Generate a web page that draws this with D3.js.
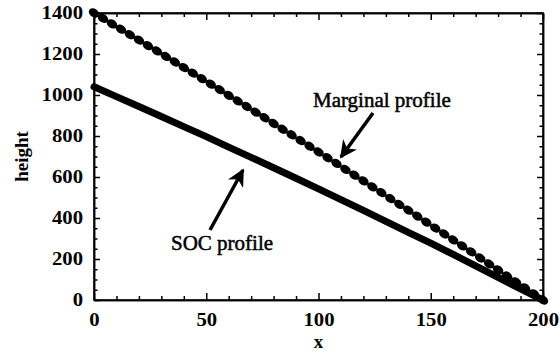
<!DOCTYPE html>
<html>
<head>
<meta charset="utf-8">
<script src="https://cdn.jsdelivr.net/npm/d3@7"></script>
<style>
  body { margin: 0; background: #fff; }
  svg { display: block; }
  .axis text { font-family: "Liberation Serif", "Times New Roman", serif; font-size: 18px; font-weight: bold; fill: #000; }
  .axis path, .axis line { stroke: #000; stroke-width: 1.5; }
  .label { font-family: "Liberation Serif", "Times New Roman", serif; fill: #000; }
</style>
</head>
<body>
<div id="chart"></div>
<script>
// marginal profile, sampled every 4 units of x
const marginalX = [0, 4, 8, 12, 16, 20, 24, 28, 32, 36, 40, 44, 48, 52, 56, 60, 64, 68, 72, 76,
  80, 84, 88, 92, 96, 100, 104, 108, 112, 116, 120, 124, 128, 132, 136, 140, 144, 148, 152, 156,
  160, 164, 168, 172, 176, 180, 184, 188, 192, 196, 200];
const marginalH = [1400, 1374, 1347, 1321, 1294, 1268, 1241, 1215, 1188, 1161, 1134, 1107, 1080, 1053, 1026, 998, 971, 944, 916, 889,
  861, 833, 806, 778, 750, 722, 694, 666, 637, 609, 581, 552, 524, 495, 466, 438, 409, 380, 351, 322,
  293, 264, 235, 205, 176, 147, 117, 88, 59, 30, 0];

// SOC profile
const socX = [0, 10, 20, 30, 40, 50, 60, 70, 80, 90, 100, 110, 120, 130, 140, 150, 160, 170, 180, 190, 200];
const socH = [1040, 992, 944, 895, 846, 797, 746, 696, 645, 594, 542, 490, 437, 384, 330, 277, 222, 167, 110, 54, 0];

const xTicks = [0, 50, 100, 150, 200];
const yTicks = [0, 200, 400, 600, 800, 1000, 1200, 1400];

const width = 560, height = 351;
const margin = { top: 13, right: 17, bottom: 51, left: 94 };
const w = width - margin.left - margin.right;
const h = height - margin.top - margin.bottom;

const svg = d3.select("#chart").append("svg")
  .attr("width", width)
  .attr("height", height);

const g = svg.append("g")
  .attr("transform", `translate(${margin.left},${margin.top})`);

const x = d3.scaleLinear().domain([0, 200]).range([0, w]);
const y = d3.scaleLinear().domain([0, 1400]).range([h, 0]);

const xMinor = d3.range(0, 201, 10).filter(v => v % 50 !== 0);
const yMinor = d3.range(0, 1401, 50).filter(v => v % 200 !== 0);

// frame
g.append("rect")
  .attr("width", w).attr("height", h)
  .attr("fill", "none").attr("stroke", "#000").attr("stroke-width", 1.5);

// major ticks, inward, all four sides
g.append("g").attr("class", "axis")
  .attr("transform", `translate(0,${h})`)
  .call(d3.axisBottom(x).tickValues(xTicks).tickSize(-7).tickSizeOuter(0).tickPadding(13).tickFormat(d3.format("d")));
g.append("g").attr("class", "axis")
  .call(d3.axisLeft(y).tickValues(yTicks).tickSize(-6).tickSizeOuter(0).tickPadding(11).tickFormat(d3.format("d")));
g.append("g").attr("class", "axis")
  .call(d3.axisTop(x).tickValues(xTicks).tickSize(-7).tickSizeOuter(0).tickFormat(""));
g.append("g").attr("class", "axis")
  .attr("transform", `translate(${w},0)`)
  .call(d3.axisRight(y).tickValues(yTicks).tickSize(-6).tickSizeOuter(0).tickFormat(""));

// the printed digits are a bit wider than Liberation's
g.selectAll(".axis .tick text").each(function () {
  const len = this.getComputedTextLength();
  if (len > 0) d3.select(this).attr("textLength", len * 1.15).attr("lengthAdjust", "spacingAndGlyphs");
});

// minor ticks
g.append("g").attr("class", "axis")
  .attr("transform", `translate(0,${h})`)
  .call(d3.axisBottom(x).tickValues(xMinor).tickSize(-4).tickSizeOuter(0).tickFormat(""));
g.append("g").attr("class", "axis")
  .call(d3.axisTop(x).tickValues(xMinor).tickSize(-4).tickSizeOuter(0).tickFormat(""));
g.append("g").attr("class", "axis")
  .call(d3.axisLeft(y).tickValues(yMinor).tickSize(-3.5).tickSizeOuter(0).tickFormat(""));
g.append("g").attr("class", "axis")
  .attr("transform", `translate(${w},0)`)
  .call(d3.axisRight(y).tickValues(yMinor).tickSize(-3.5).tickSizeOuter(0).tickFormat(""));

// SOC profile: heavy solid line
const socLine = d3.line().x((d, i) => x(socX[i])).y(d => y(d));
g.append("path")
  .datum(socH)
  .attr("d", socLine)
  .attr("fill", "none")
  .attr("stroke", "#000")
  .attr("stroke-width", 7)
  .attr("stroke-linejoin", "round")
  .attr("stroke-linecap", "round");

// marginal profile: elongated dots along the line
const angle = Math.atan2(y(0) - y(1400), x(200) - x(0)) * 180 / Math.PI;
g.append("g")
  .selectAll("ellipse")
  .data(marginalH)
  .enter()
  .append("ellipse")
  .attr("transform", (d, i) => `translate(${x(marginalX[i])},${y(d)}) rotate(${angle})`)
  .attr("rx", 5.6)
  .attr("ry", 4.2)
  .attr("fill", "#000");

// axis titles
svg.append("text").attr("class", "label")
  .attr("x", margin.left + w / 2).attr("y", 348)
  .attr("text-anchor", "middle")
  .style("font-size", "19px").style("font-weight", "bold")
  .text("x");
svg.append("text").attr("class", "label")
  .attr("transform", `translate(28,${margin.top + h / 2}) rotate(-90)`)
  .attr("text-anchor", "middle")
  .style("font-size", "19px").style("font-weight", "bold")
  .text("height");

// annotations with arrows
svg.append("defs").append("marker")
  .attr("id", "head")
  .attr("viewBox", "0 0 10 10")
  .attr("refX", 9).attr("refY", 5)
  .attr("markerWidth", 5).attr("markerHeight", 5)
  .attr("orient", "auto")
  .append("path").attr("d", "M0,0 L10,5 L0,10 L3,5 Z").attr("fill", "#000");

function annotate(label, tx, ty, x1, y1, x2, y2) {
  svg.append("text").attr("class", "label")
    .attr("x", tx).attr("y", ty)
    .style("font-size", "21px")
    .attr("stroke", "#000").attr("stroke-width", 0.5)
    .text(label);
  svg.append("line")
    .attr("x1", x1).attr("y1", y1).attr("x2", x2).attr("y2", y2)
    .attr("stroke", "#000").attr("stroke-width", 3.5)
    .attr("marker-end", "url(#head)");
}
annotate("Marginal profile", 313, 107, 373, 113, 341, 157);
annotate("SOC profile", 171, 250, 210, 230, 243, 170);
</script>
</body>
</html>
